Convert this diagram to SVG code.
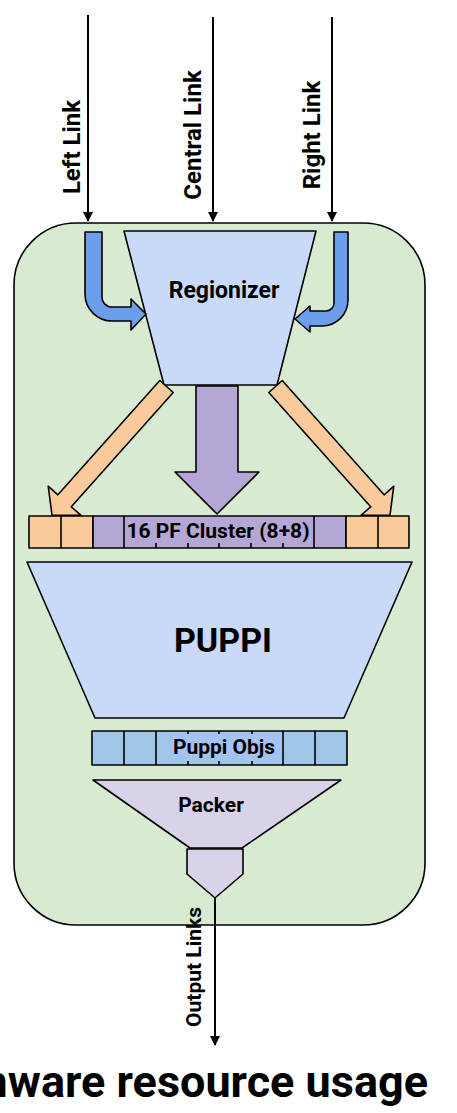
<svg xmlns="http://www.w3.org/2000/svg" width="457" height="1113" viewBox="0 0 457 1113">
  <defs>
    <marker id="head" viewBox="0 0 10 10" refX="9" refY="5" markerWidth="5" markerHeight="5" orient="auto" markerUnits="strokeWidth">
      <path d="M0,0 L10,5 L0,10 Z" fill="#000"/>
    </marker>
    <style>
      .lbl { font-family: Roboto, "Liberation Sans", sans-serif; font-weight: bold; fill: #000; }
      .edge { stroke: #000; stroke-width: 1.6; stroke-linejoin: round; }
      .link { stroke: #000; stroke-width: 2; fill: none; marker-end: url(#head); }
      .blue { fill: #c9daf8; }
      .orange { fill: #f9cb9c; }
      .purple { fill: #b4a7d6; }
      .cell { fill: #9fc5e8; }
    </style>
  </defs>

  <rect width="457" height="1113" fill="#fff"/>

  <!-- firmware block container -->
  <g id="container">
    <rect x="14" y="223" width="411" height="702" rx="62" ry="62" fill="#d9ead3" class="edge"/>
  </g>

  <!-- regionizer -->
  <g id="regionizer">
    <polygon points="124,231 316,231 277,385 164,385" class="blue edge"/>
    <text x="224" y="298" font-size="23" text-anchor="middle" class="lbl">Regionizer</text>
  </g>

  <g id="connectors">
    <!-- input links -->
    <line x1="88" y1="15" x2="88" y2="221" class="link"/>
    <line x1="213" y1="17" x2="213" y2="221" class="link"/>
    <line x1="332" y1="17" x2="332" y2="221" class="link"/>
    <!-- side inputs bent into the regionizer -->
    <path d="M85,232 H102 V297 A10,10 0 0 0 112,307 H131 V299 L146,314 L131,330 V321 H112 A27,27 0 0 1 85,294 Z" fill="#6d9eeb" class="edge"/>
    <path d="M334,232 H348 V300 A26,26 0 0 1 322,326 H310 V332 L295,319 L310,306 V311 H326 A8,8 0 0 0 334,303 Z" fill="#6d9eeb" class="edge"/>
    <!-- regionizer outputs -->
    <polygon points="173.2,392.5 71.3,506.8 81,515.4 52,515 48.2,486.2 57.9,494.8 159.8,380.5" class="orange edge"/>
    <polygon points="268.8,392.5 370.7,506.8 361,515.4 390,515 393.8,486.2 384.1,494.8 282.2,380.5" class="orange edge"/>
    <path d="M196,386 H238 V472 H259 L217,514 L175,472 H196 Z" class="purple edge"/>
    <!-- output link -->
    <line x1="215" y1="898" x2="215" y2="1045" class="link"/>
  </g>

  <!-- link labels -->
  <g id="labels">
    <text transform="translate(80,147) rotate(-90)" font-size="24" text-anchor="middle" class="lbl">Left Link</text>
    <text transform="translate(201,135) rotate(-90)" font-size="24" text-anchor="middle" class="lbl">Central Link</text>
    <text transform="translate(320,135) rotate(-90)" font-size="24" text-anchor="middle" class="lbl">Right Link</text>
    <text transform="translate(201,967) rotate(-90)" font-size="21" text-anchor="middle" class="lbl">Output Links</text>
  </g>

  <!-- PF cluster register row -->
  <g id="pf-clusters">
    <rect x="29" y="516" width="64" height="32" class="orange edge"/>
    <line x1="61" y1="516" x2="61" y2="548" class="edge"/>
    <rect x="93" y="516" width="253" height="32" class="purple edge"/>
    <line x1="124" y1="516" x2="124" y2="548" class="edge"/>
    <line x1="314" y1="516" x2="314" y2="548" class="edge"/>
    <g class="edge">
      <line x1="156" y1="543" x2="156" y2="548"/>
      <line x1="188" y1="543" x2="188" y2="548"/>
      <line x1="219" y1="543" x2="219" y2="548"/>
      <line x1="251" y1="543" x2="251" y2="548"/>
      <line x1="283" y1="543" x2="283" y2="548"/>
    </g>
    <rect x="346" y="516" width="63" height="32" class="orange edge"/>
    <line x1="378" y1="516" x2="378" y2="548" class="edge"/>
    <text x="218" y="538" font-size="21" text-anchor="middle" class="lbl">16 PF Cluster (8+8)</text>
  </g>

  <!-- PUPPI -->
  <g id="puppi">
    <polygon points="27,562 412,562 344,718 95,718" class="blue edge"/>
    <text x="223" y="652" font-size="34" text-anchor="middle" class="lbl">PUPPI</text>
  </g>

  <!-- PUPPI output register row -->
  <g id="puppi-objs">
    <rect x="92" y="731" width="255" height="34" class="cell edge"/>
    <line x1="124" y1="731" x2="124" y2="765" class="edge"/>
    <line x1="156" y1="731" x2="156" y2="765" class="edge"/>
    <line x1="283" y1="731" x2="283" y2="765" class="edge"/>
    <line x1="315" y1="731" x2="315" y2="765" class="edge"/>
    <g class="edge">
      <line x1="188" y1="731" x2="188" y2="735"/>
      <line x1="219" y1="731" x2="219" y2="735"/>
      <line x1="252" y1="731" x2="252" y2="735"/>
      <line x1="188" y1="761" x2="188" y2="765"/>
      <line x1="219" y1="761" x2="219" y2="765"/>
      <line x1="252" y1="761" x2="252" y2="765"/>
    </g>
    <rect x="172" y="734" width="110" height="23" fill="#a4c2f4"/>
    <text x="224" y="754" font-size="21" text-anchor="middle" class="lbl">Puppi Objs</text>
  </g>

  <!-- packer funnel -->
  <g id="packer">
    <polygon points="93,780 341,780 242,848 190,848" fill="#d9d2e9" class="edge"/>
    <polygon points="187,849 243,849 243,874 215,898 187,874" fill="#d9d2e9" class="edge"/>
    <text x="211" y="812" font-size="21" text-anchor="middle" class="lbl">Packer</text>
  </g>

  <!-- caption -->
  <g id="caption">
    <text x="428" y="1097" font-size="45" text-anchor="end" class="lbl">mware resource usage</text>
  </g>
</svg>
